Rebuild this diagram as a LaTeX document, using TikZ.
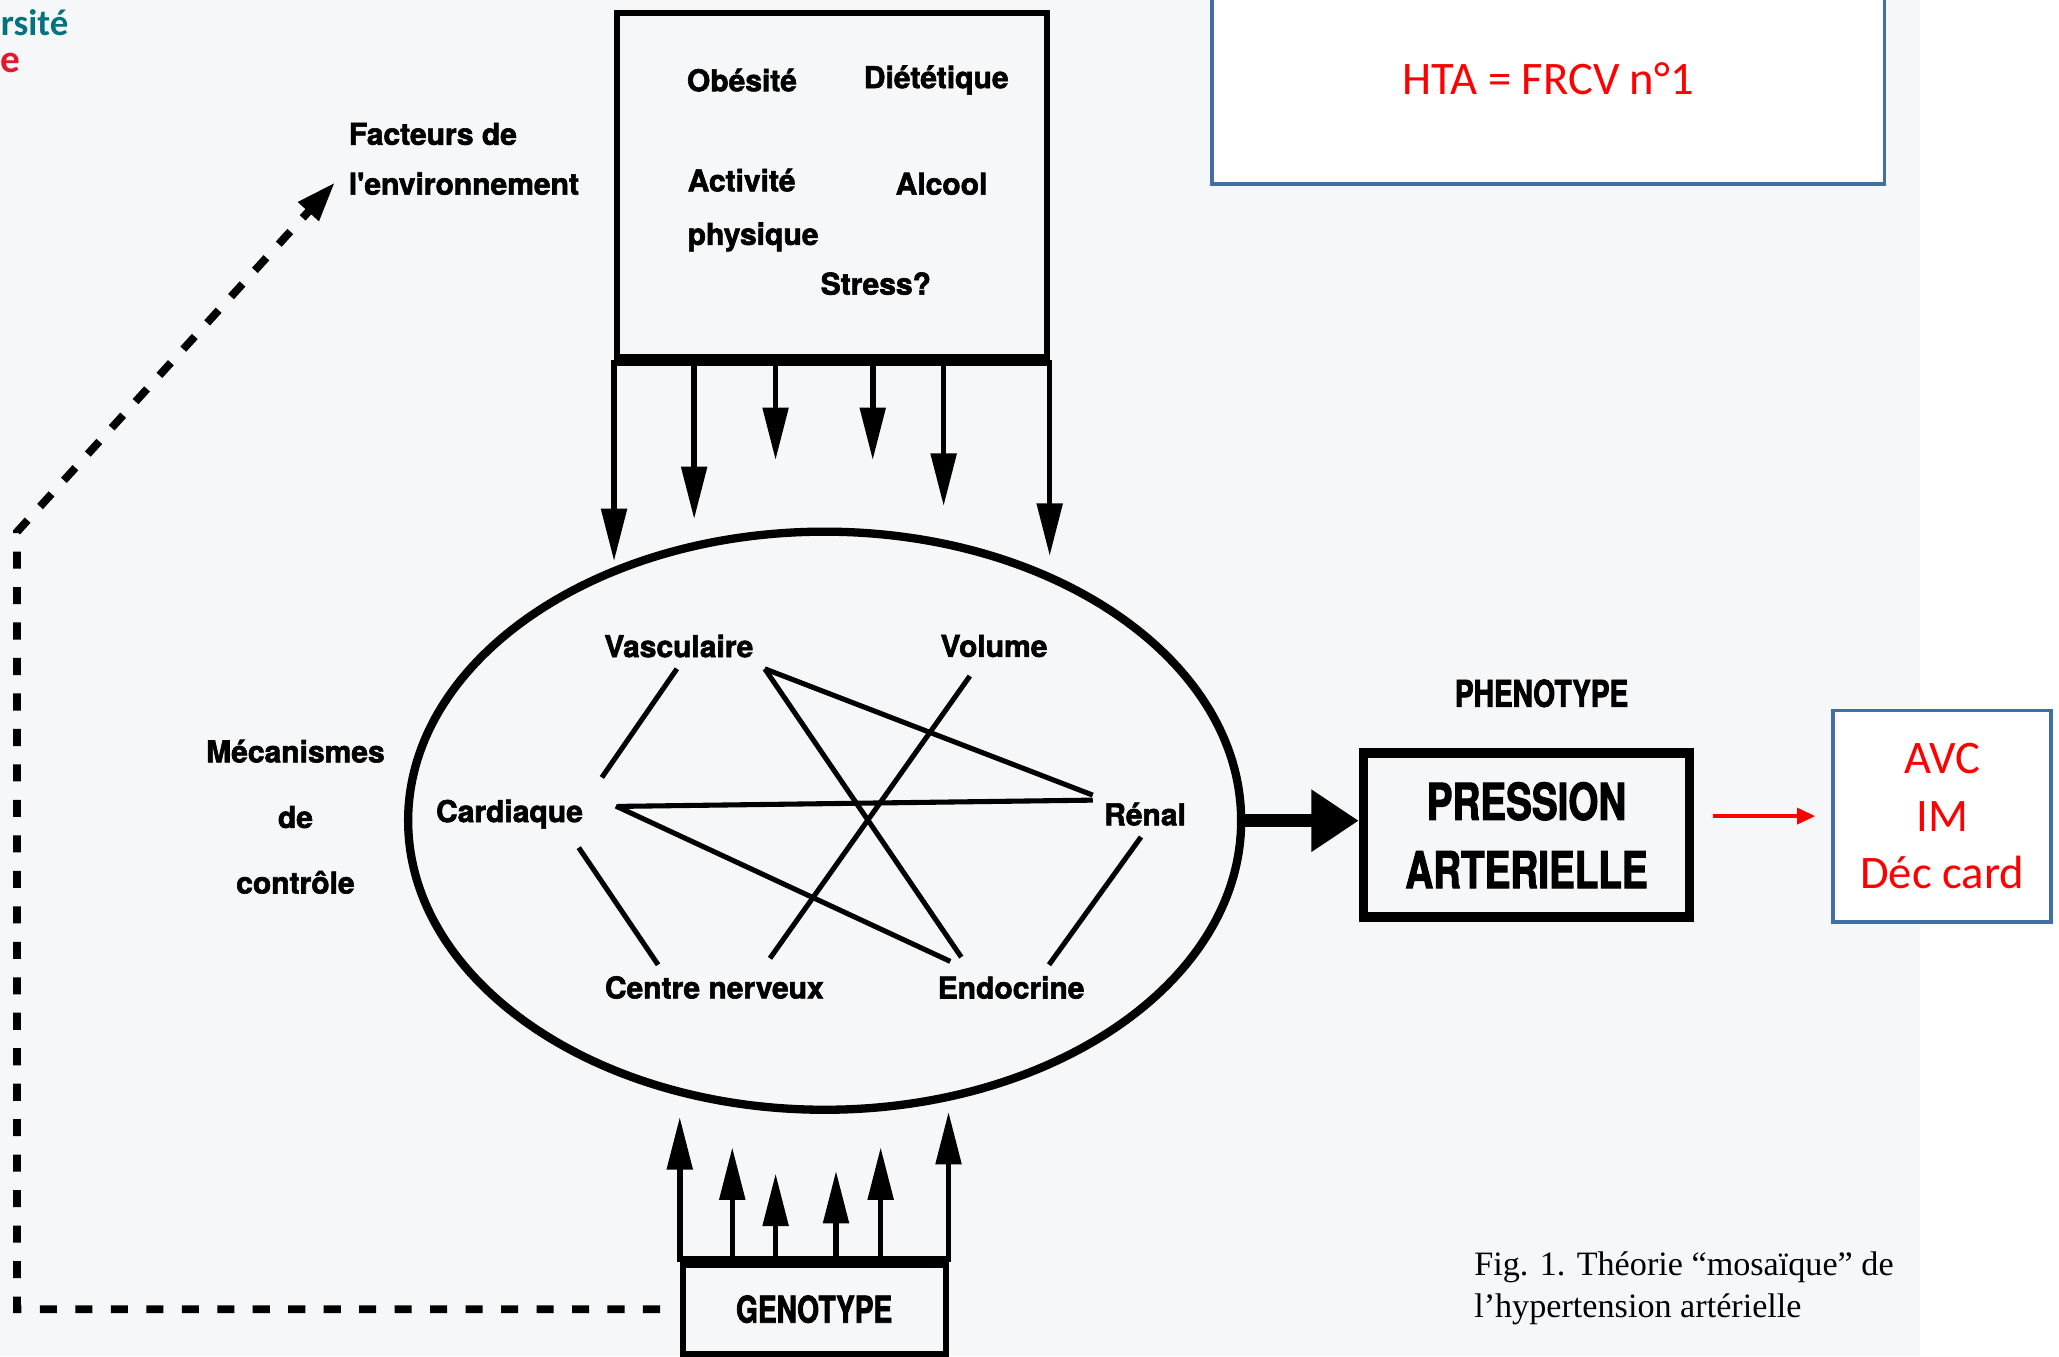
\documentclass[tikz,border=0pt]{standalone}
\usepackage{fontspec}
\setmainfont{Liberation Serif}
\newfontfamily\heros{TeX Gyre Heros}[BoldFeatures={FakeBold=2}]
\newfontfamily\heroscn{TeX Gyre Heros}[FakeStretch=0.76,BoldFeatures={FakeBold=2}]
\newfontfamily\carlito{Carlito}
\usetikzlibrary{arrows.meta,shapes.geometric,positioning}
\definecolor{boxblue}{RGB}{65,110,165}
\definecolor{unired}{RGB}{225,25,45}
\definecolor{uniteal}{RGB}{0,115,125}
\definecolor{scan}{RGB}{246,247,249}
\tikzset{
  lbl/.style={font=\heros\bfseries\fontsize{6.5}{8}\selectfont, inner sep=0.08cm},
  envlbl/.style={font=\heros\bfseries\fontsize{6.5}{11.6}\selectfont, inner sep=0, align=center},
  caps/.style={font=\heroscn\bfseries\fontsize{8}{10}\selectfont, inner sep=0},
  link/.style={line width=1.1pt},
  feed/.style={line width=1.2pt, -{Triangle[length=0.4cm,width=0.19cm]}},
  redtxt/.style={font=\carlito\fontsize{10.1}{12.4}\selectfont, text=red, align=center},
  bluebox/.style={draw=boxblue, line width=0.8pt, fill=white},
  dashline/.style={line width=1.7pt, dash pattern=on 0.13cm off 0.14cm, -{Triangle[length=0.3cm,width=0.2cm]}},
}
\begin{document}
\begin{tikzpicture}[x=0.01cm, y=-0.01cm]
    \useasboundingbox (0,0) rectangle (1568,1033);
    \clip (0,0) rectangle (1568,1033);
    \fill[scan] (0,0) rectangle (1462,1033);
    % bits of the logo
    \node[font=\carlito\bfseries\fontsize{8}{9}\selectfont, text=uniteal, anchor=west, inner sep=0] (logoa) at (0,17) {rsité};
    \node[font=\carlito\bfseries\fontsize{8.5}{9}\selectfont, text=unired, anchor=west, inner sep=0] (logob) at (0,48) {e};
    % environment
    \node[draw, line width=1.3pt, minimum width=3.27cm, minimum height=2.62cm, inner sep=0] (env) at (633.5,141) {};
    \draw[line width=2.6pt] (env.south west) -- (env.south east);
    \node[lbl] (obes) at (565,61) {Obésité};
    \node[lbl] (diet) at (713,61) {Diététique};
    \node[envlbl, align=left, anchor=west] (activ) at (523,160) {Activité\\physique};
    \node[lbl] (alcool) at (717,140) {Alcool};
    \node[lbl] (stress) at (667,216) {Stress?};
    \node[envlbl, align=left, anchor=west, font=\heros\bfseries\fontsize{6.5}{10.8}\selectfont] (fact) at (265,121) {Facteurs de\\l'environnement};
    \draw[feed] (env.south west) -- ++(0,153);
    \draw[feed] (env.south east) -- ++(0,149);
    \foreach \dx/\len in {61/121, 123/76, 197/76, 251/111}
        \draw[feed] ([xshift=\dx*0.01cm]env.south west) -- ++(0,\len);
    % mechanisms
    \node[draw, ellipse, line width=1.8pt, minimum width=6.34cm, minimum height=4.4cm, inner sep=0] (meca) at (628,625) {};
    \node[envlbl, font=\heros\bfseries\fontsize{6.5}{14.2}\selectfont] (mecalbl) at (225,622) {Mécanismes\\de\\contrôle};
    \node[lbl] (vas) at (517,492) {Vasculaire};
    \node[lbl] (vol) at (757,492) {Volume};
    \node[lbl] (card) at (388,620) {Cardiaque};
    \node[lbl] (ren) at (872,620) {Rénal};
    \node[lbl] (cn) at (544,752) {Centre nerveux};
    \node[lbl] (endo) at (770,752) {Endocrine};
    \draw[link, shorten >=0.1cm] (vas.-95) -- (card.north east);
    \draw[link] (vas.south east) -- (ren.160);
    \draw[link, shorten >=0.07cm] (vas.south east) -- (endo.153);
    \draw[link, shorten <=0.07cm, shorten >=0.06cm] (vol.-130) -- (cn.24);
    \draw[link, shorten <=0.18cm] (card.5) -- (ren.165);
    \draw[link, shorten <=0.18cm, shorten >=0.06cm] (card.12) -- (endo.157);
    \draw[link, shorten <=0.07cm] (card.-22) -- (cn.158);
    \draw[link] (ren.-100) -- (endo.31);
    % phenotype
    \node[caps] (pheno) at (1174,528) {PHENOTYPE};
    \node[draw, line width=2.1pt, minimum width=2.48cm, minimum height=1.25cm, align=center, inner sep=0,
          font=\heroscn\bfseries\fontsize{11}{14.8}\selectfont] (press) at (1162.5,636) {PRESSION\\ARTERIELLE};
    \draw[line width=2.8pt, -{Triangle[length=0.36cm,width=0.45cm]}] (meca.east) -- (meca.east -| press.west);
    \node[bluebox, redtxt, minimum width=1.66cm, minimum height=1.61cm] (avc) at (1479,621.5) {AVC\\IM\\Déc card};
    \draw[red, line width=0.9pt, -{Triangle[length=0.14cm,width=0.12cm]}, shorten <=0.14cm, shorten >=0.12cm] (avc.west -| press.east) -- (avc.west);
    \node[bluebox, redtxt, minimum width=5.12cm, minimum height=1.6cm] (hta) at (1179,60) {HTA = FRCV n°1};
    % genotype
    \node[draw, caps, line width=1.3pt, minimum width=2cm, minimum height=0.68cm] (geno) at (620,997) {GENOTYPE};
    \draw[line width=2.4pt] (geno.north west) -- (geno.north east);
    \draw[feed] (geno.north west) -- ++(0,-110);
    \draw[feed] (geno.north east) -- ++(0,-114);
    \foreach \dx/\len in {40/87, 73/67, 119/69, 153/87}
        \draw[feed] ([xshift=\dx*0.01cm]geno.north west) -- ++(0,-\len);
    \coordinate (dcorner) at (13,405);
    \coordinate (envtip) at (255,139);
    \draw[dashline, shorten <=0.15cm] (geno.west) -| (dcorner) -- (envtip);
    % caption
    \node[font=\fontsize{7.4}{9}\selectfont, align=left, anchor=west, inner sep=0] (caption) at (1122,981) {Fig. 1. Théorie “mosaïque” de\\l’hypertension artérielle};
\end{tikzpicture}
\end{document}
